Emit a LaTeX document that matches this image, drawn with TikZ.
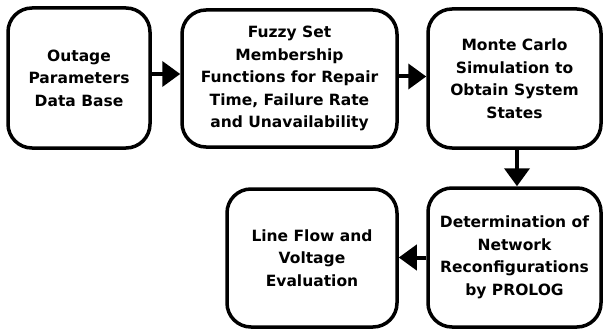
\documentclass[tikz,border=0pt]{standalone}
\usepackage{fontspec}
\setmainfont{DejaVu Sans}
\usetikzlibrary{arrows.meta}
\begin{document}
\begin{tikzpicture}[x=1pt,y=-1pt,
  box/.style={draw,line width=3.5pt,rounded corners=24pt,align=center,
    font=\bfseries\fontsize{15.5pt}{22.5pt}\selectfont,inner sep=0pt},
  flow/.style={line width=4pt,-{Triangle[length=18pt 0,width=25pt 0]}}]
\useasboundingbox (0,0) rectangle (603,329);
\node[box,minimum width=142pt,minimum height=140pt] (b1) at (79,78) {Outage\\Parameters\\Data Base};
\node[box,minimum width=215pt,minimum height=137pt] (b2) at (289.5,78.5) {Fuzzy Set\\Membership\\Functions for Repair\\Time, Failure Rate\\and Unavailability};
\node[box,minimum width=173pt,minimum height=139pt] (b3) at (514.5,78.5) {Monte Carlo\\Simulation to\\Obtain System\\States};
\node[box,minimum width=170pt,minimum height=138pt] (b4) at (312,258) {Line Flow and\\Voltage\\Evaluation};
\node[box,minimum width=173pt,minimum height=139pt] (b5) at (514.5,257.5) {Determination of\\Network\\Reconfigurations\\by PROLOG};
\draw[flow] ([yshift=4pt]b1.east) -- ([yshift=4pt]b1.east -| b2.west);
\draw[flow] ([yshift=2pt]b2.east) -- ([yshift=2pt]b2.east -| b3.west);
\draw[flow] ([xshift=2.5pt]b3.south) -- ([xshift=2.5pt]b3.south |- b5.north);
\draw[flow] (b5.west) -- (b5.west -| b4.east);
\end{tikzpicture}
\end{document}
